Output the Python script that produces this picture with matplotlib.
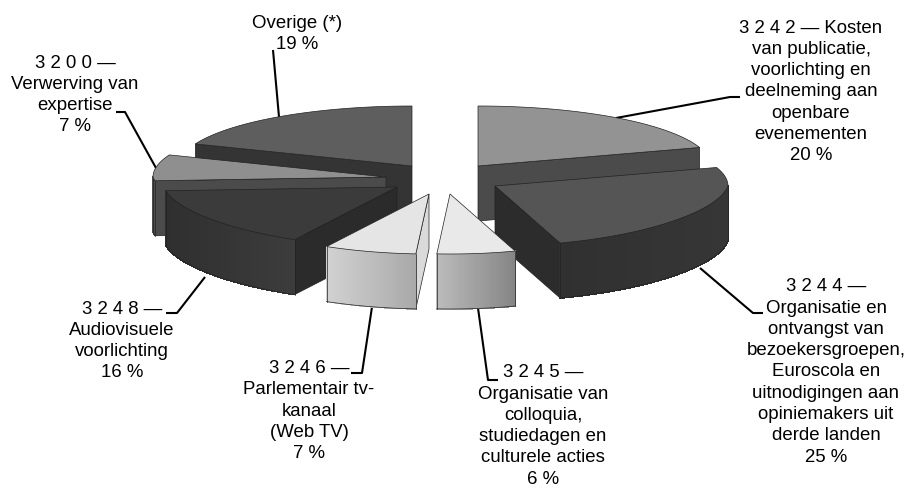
#!/usr/bin/env python3

import numpy as np
import matplotlib
matplotlib.use('Agg')
import matplotlib.pyplot as plt
from matplotlib.colors import to_rgb
from matplotlib.patches import Polygon

plt.rcParams['font.family'] = ['Liberation Sans', 'DejaVu Sans']

# Chart data, clockwise from 12 o'clock
shares = [20, 25, 6, 7, 16, 7, 19]
labels = [
    '3 2 4 2 — Kosten\nvan publicatie,\nvoorlichting en\ndeelneming aan\nopenbare\nevenementen\n20 %',
    '3 2 4 4 —\nOrganisatie en\nontvangst van\nbezoekersgroepen,\nEuroscola en\nuitnodigingen aan\nopiniemakers uit\nderde landen\n25 %',
    '3 2 4 5 —\nOrganisatie van\ncolloquia,\nstudiedagen en\nculturele acties\n6 %',
    '3 2 4 6 —\nParlementair tv-\nkanaal\n(Web TV)\n7 %',
    '3 2 4 8 —\nAudiovisuele\nvoorlichting\n16 %',
    '3 2 0 0 —\nVerwerving van\nexpertise\n7 %',
    'Overige (*)\n19 %',
]

# Layout per slice, same order as shares: exploded apex position in pixels
apex_x = [478, 495, 450, 429, 397, 386, 412]
apex_y = [166, 186, 194, 194, 187, 177, 166]

# Greys per slice: top, cut face, outer wall left and right end
top_grey = ['#939393', '#555555', '#e9e9e9', '#e5e5e5', '#3b3b3b', '#8f8f8f', '#5e5e5e']
cut_grey = ['#4b4b4b', '#2c2c2c', '#b0b0b0', '#dadada', '#2b2b2b', '#4b4b4b', '#343434']
wall_left = ['#4b4b4b', '#303030', '#bcbcbc', '#d2d2d2', '#2f2f2f', '#4b4b4b', '#343434']
wall_right = ['#4b4b4b', '#363636', '#858585', '#a9a9a9', '#3c3c3c', '#4b4b4b', '#343434']

# Label centres and leader lines in pixels
label_x = [811, 826, 543, 309, 122, 75, 297]
label_y = [92, 372, 426, 411, 341, 95, 34]
leaders = [
    [(616, 118), (730, 97), (740, 97)],
    [(700, 268), (753, 313), (763, 313)],
    [(478, 308), (488, 380), (498, 380)],
    [(372, 307), (362, 373), (351, 373)],
    [(205, 277), (177, 313), (166, 313)],
    [(156, 168), (125, 112), (116, 112)],
    [(279, 117), (273, 50)],
]

rx = 233
ry = 60
depth = 55


def ellipse_point(cx, cy, angle):
    # Angle in degrees clockwise from the top; the front of the pie is a bit narrower
    t = np.radians(angle)
    narrow = 1 - 0.1 * np.maximum(0, -np.cos(t))
    return cx + rx * np.sin(t) * narrow, cy - ry * np.cos(t)


def draw_slice(ax, i, start, end, z):
    cx, cy = apex_x[i], apex_y[i]
    edge = dict(edgecolor='#222222', linewidth=0.5)

    # Radial cut faces, only those turned to the viewer
    for angle, visible in ((start, 180 < start), (end, 0 < end < 180)):
        if visible:
            x, y = ellipse_point(cx, cy, angle)
            ax.add_patch(Polygon([(cx, cy), (x, y), (x, y + depth), (cx, cy + depth)],
                                 facecolor=cut_grey[i], zorder=z, **edge))

    # Outer wall, in narrow strips so the grey can change along the arc
    lo, hi = max(start, 90), min(end, 270)
    if lo < hi:
        angles = np.linspace(lo, hi, 41)
        x, y = ellipse_point(cx, cy, angles)
        left = np.array(to_rgb(wall_left[i]))
        right = np.array(to_rgb(wall_right[i]))
        for k in range(len(angles) - 1):
            f = (x[k] - x.min()) / (x.max() - x.min())
            c = left + (right - left) * f
            ax.add_patch(Polygon([(x[k], y[k]), (x[k + 1], y[k + 1]),
                                  (x[k + 1], y[k + 1] + depth), (x[k], y[k] + depth)],
                                 facecolor=c, edgecolor=c, linewidth=0.5,
                                 antialiased=False, zorder=z))
        ax.plot(x, y + depth, color='#222222', lw=0.5, zorder=z)
        ax.plot([x[0], x[0]], [y[0], y[0] + depth], color='#222222', lw=0.5, zorder=z)
        ax.plot([x[-1], x[-1]], [y[-1], y[-1] + depth], color='#222222', lw=0.5, zorder=z)

    # Top face
    angles = np.linspace(start, end, 60)
    x, y = ellipse_point(cx, cy, angles)
    ax.add_patch(Polygon([(cx, cy)] + list(zip(x, y)), facecolor=top_grey[i], zorder=z, **edge))


fig = plt.figure(figsize=(9.08, 4.88), dpi=100)
ax = fig.add_axes([0, 0, 1, 1])
ax.set_xlim(0, 908)
ax.set_ylim(488, 0)
ax.axis('off')

bounds = np.concatenate(([0], np.cumsum(shares))) * 360 / sum(shares)

# Painter's order: back slices first, the pale front ones last
order = [6, 0, 5, 4, 1, 3, 2]
for z, i in enumerate(order):
    draw_slice(ax, i, bounds[i], bounds[i + 1], 2 + z)

for i in range(len(labels)):
    ax.text(label_x[i], label_y[i], labels[i], ha='center', va='center',
            fontsize=13.4, linespacing=1.33, color='black', zorder=20)
    ax.plot(*zip(*leaders[i]), color='black', lw=1.5, zorder=1, solid_capstyle='butt')

fig.savefig('out.png', dpi=100)
